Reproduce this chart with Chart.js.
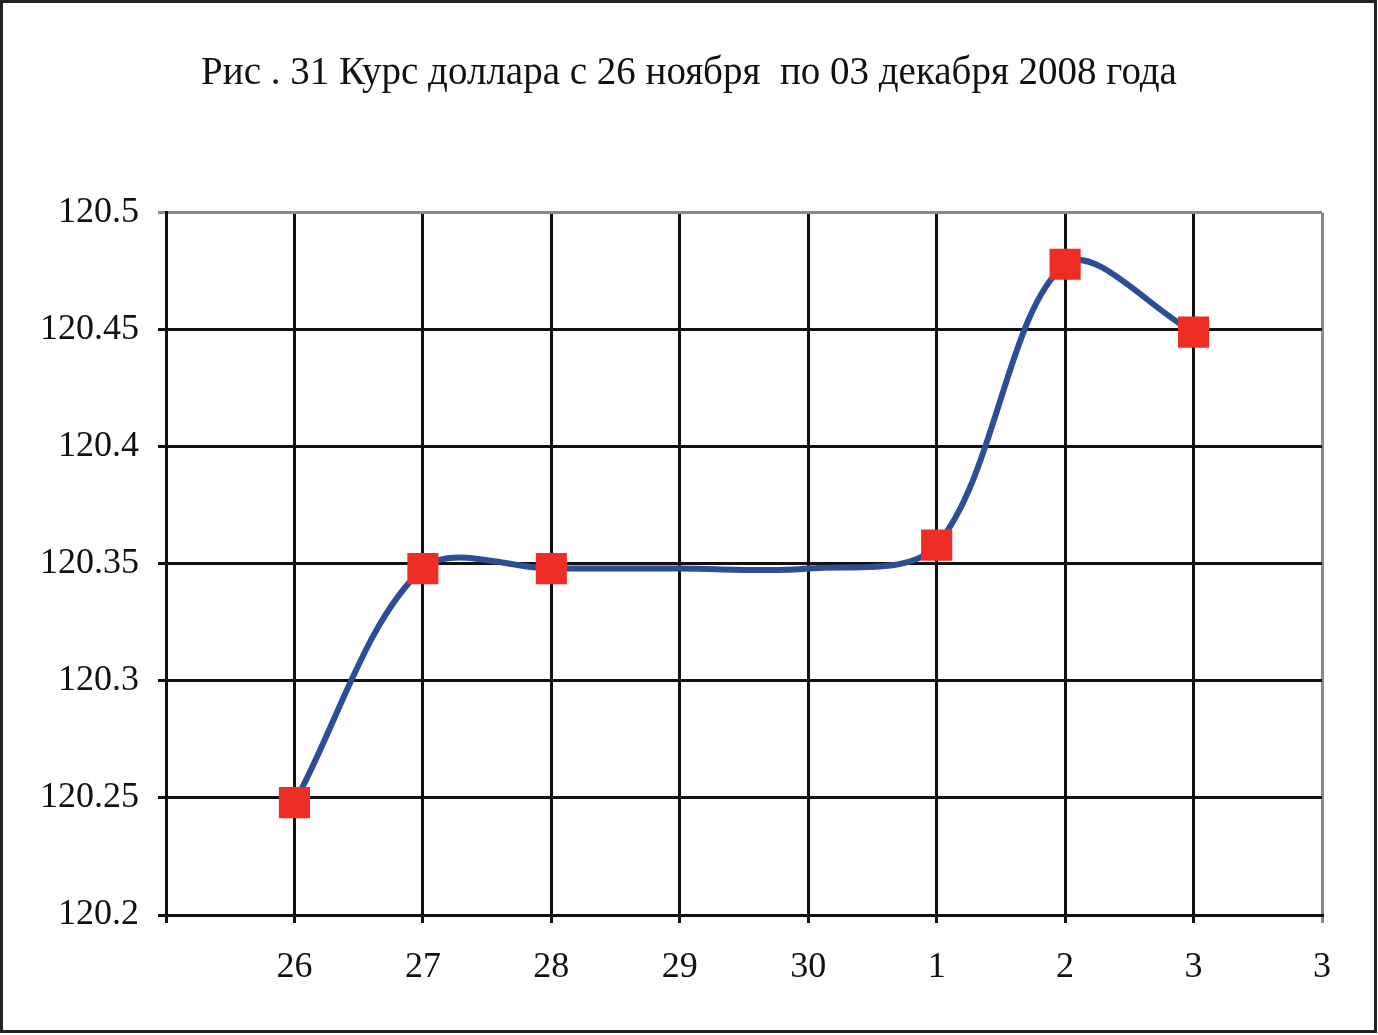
<!DOCTYPE html>
<html>
<head>
<meta charset="utf-8">
<title>Курс доллара</title>
<script src="https://cdn.jsdelivr.net/npm/chart.js@4.4.1/dist/chart.umd.min.js"></script>
<style>
  html, body { margin: 0; padding: 0; background: #fff; }
  #wrap { position: relative; width: 1378px; height: 1035px; }
</style>
</head>
<body>
<div id="wrap"><canvas id="rateChart"></canvas></div>
<script>
// Day positions on the x axis (0 is the empty slot at the y axis)
const xTickLabels = ['', '26', '27', '28', '29', '30', '1', '2', '3', '3'];
const dayPos = [1, 2, 3, 4, 5, 6, 7, 8];
// Dollar rate per day (29 and 30 are the weekend: no marker)
const rates = [120.248, 120.348, 120.348, 120.348, 120.348, 120.358, 120.478, 120.449];
const hasMarker = [true, true, true, false, false, true, true, true];
const yTicks = [120.2, 120.25, 120.3, 120.35, 120.4, 120.45, 120.5];

const serif = "'Liberation Serif', 'Times New Roman', serif";

// outer frame round the whole picture
const framePlugin = {
    id: 'frame',
    afterDraw(chart) {
        const ctx = chart.ctx;
        ctx.save();
        ctx.strokeStyle = '#222';
        ctx.lineWidth = 3;
        ctx.strokeRect(1.5, 1.5, chart.width - 4, chart.height - 5);
        ctx.restore();
    }
};

const points = dayPos.map((x, i) => ({ x: x, y: rates[i] }));

const config = {
    type: 'line',
    data: {
        datasets: [{
            data: points,
            borderColor: '#2B4E96',
            borderWidth: 6,
            backgroundColor: '#EE2E24',
            pointStyle: 'rect',
            pointRadius: hasMarker.map(m => m ? 22 : 0),
            pointBorderWidth: 0,
            tension: 0.33,
            fill: false
        }]
    },
    options: {
        responsive: true,
        maintainAspectRatio: false,
        animation: false,
        events: [],
        layout: { padding: 0 },
        scales: {
            x: {
                type: 'linear',
                min: 0,
                max: 9,
                afterBuildTicks: (scale) => {
                    scale.ticks = xTickLabels.map((_, i) => ({ value: i }));
                },
                afterFit: (scale) => { scale.height = 120; },
                ticks: {
                    autoSkip: false,
                    maxRotation: 0,
                    padding: 23,
                    color: '#111',
                    font: { family: serif, size: 36 },
                    callback: (v) => xTickLabels[v]
                },
                grid: {
                    color: (c) => c.tick && c.tick.value === 9 ? '#8a8a8a' : '#111',
                    lineWidth: 3,
                    tickLength: 8
                },
                border: { color: '#111', width: 3 }
            },
            y: {
                min: 120.2,
                max: 120.5,
                afterBuildTicks: (scale) => {
                    scale.ticks = yTicks.map(v => ({ value: v }));
                },
                afterFit: (scale) => { scale.width = 166; },
                ticks: {
                    padding: 19,
                    color: '#111',
                    font: { family: serif, size: 36 },
                    callback: (v) => String(parseFloat(Number(v).toFixed(2)))
                },
                grid: {
                    color: (c) => c.tick && c.tick.value === 120.5 ? '#8a8a8a' : '#111',
                    lineWidth: 3,
                    tickLength: 8
                },
                border: { color: '#111', width: 3 }
            },
            // empty right-hand axis, only keeps the white margin on the right
            yRight: {
                position: 'right',
                min: 120.2,
                max: 120.5,
                afterFit: (scale) => { scale.width = 56; },
                ticks: { display: false },
                grid: { display: false },
                border: { display: false }
            }
        },
        plugins: {
            legend: { display: false },
            tooltip: { enabled: false },
            title: {
                display: true,
                fullSize: true,
                text: 'Рис . 31 Курс доллара с 26 ноября  по 03 декабря 2008 года',
                color: '#111',
                font: { family: serif, size: 39, weight: 'normal' },
                padding: { top: 50, bottom: 116 }
            }
        }
    },
    plugins: [framePlugin]
};

document.addEventListener('DOMContentLoaded', () => {
    new Chart(document.getElementById('rateChart'), config);
});
</script>
</body>
</html>
